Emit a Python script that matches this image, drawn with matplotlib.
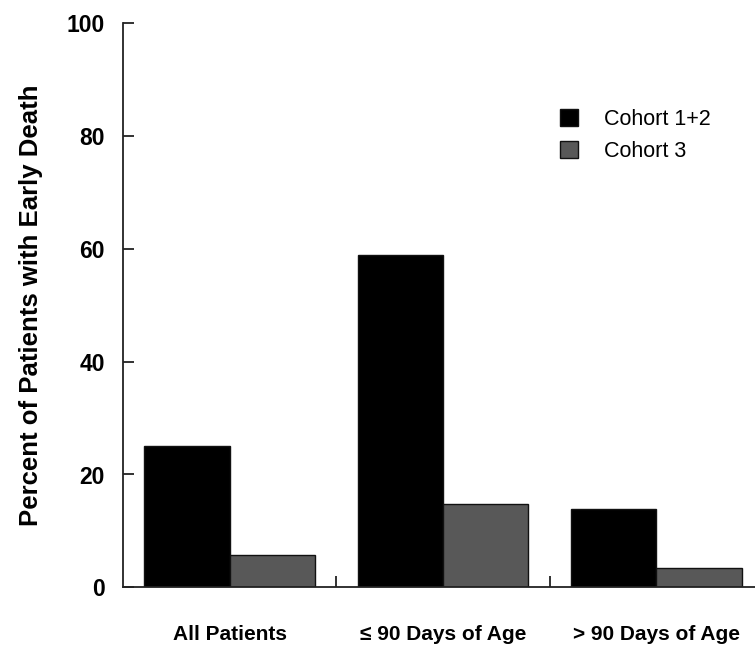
import matplotlib
matplotlib.use("Agg")
import matplotlib.pyplot as plt
import numpy as np

categories = ["All Patients", "\u2264 90 Days of Age", "> 90 Days of Age"]
series_names = ["Cohort 1+2", "Cohort 3"]
cohort12 = [25.0, 59.0, 13.9]
cohort3 = [5.7, 14.8, 3.5]
yticks = [0, 20, 40, 60, 80, 100]

plt.rcParams['font.family'] = ['Liberation Sans', 'DejaVu Sans']

W, H = 755, 648
fig = plt.figure(figsize=(W / 100, H / 100), dpi=100)
ax_left, ax_bottom = 123 / W, (H - 587.3) / H
ax_w, ax_h = 640 / W, (587.3 - 23.3) / H
ax = fig.add_axes([ax_left, ax_bottom, ax_w, ax_h])

x = np.arange(len(categories))
bw = 0.40
ax.bar(x - bw / 2, cohort12, width=bw, color="#000000", edgecolor="#111111",
       linewidth=1.0, label=series_names[0])
ax.bar(x + bw / 2, cohort3, width=bw, color="#585858", edgecolor="#111111",
       linewidth=1.0, label=series_names[1])

ax.set_xlim(-0.5, 2.5)
ax.set_ylim(0, 100)
ax.spines['top'].set_visible(False)
ax.spines['right'].set_visible(False)
for s in ('left', 'bottom'):
    ax.spines[s].set_linewidth(1.3)
    ax.spines[s].set_color("#222222")

ax.set_yticks(yticks)
ax.set_yticklabels([str(v) for v in yticks], fontsize=16.5, fontweight='bold')
ax.tick_params(axis='y', direction='in', length=8, width=1.3, pad=13, color="#222222")

ax.set_xticks(x)
ax.set_xticklabels(categories, fontsize=15, fontweight='bold')
ax.tick_params(axis='x', which='major', length=0, pad=27)
ax.set_xticks([0.5, 1.5], minor=True)
ax.tick_params(axis='x', which='minor', direction='in', length=8, width=1.3, color="#222222")

ax.set_ylabel("Percent of Patients with Early Death", fontsize=18.5, fontweight='bold', labelpad=17)

leg = ax.legend(loc='upper left', bbox_to_anchor=(560 / W, 1 - 109 / H),
                bbox_transform=fig.transFigure, frameon=False,
                fontsize=15.5, handlelength=0.84, handleheight=0.84,
                handletextpad=1.2, labelspacing=0.52, borderpad=0, borderaxespad=0)

fig.savefig("out.png", dpi=100)
